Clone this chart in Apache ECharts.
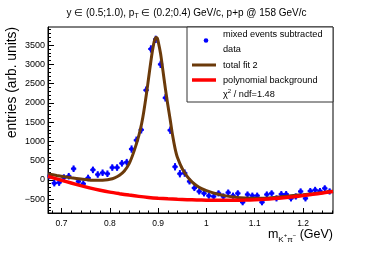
<!DOCTYPE html>
<html><head><meta charset="utf-8">
<script src="https://cdn.jsdelivr.net/npm/echarts@6/dist/echarts.min.js"></script>
<style>html,body{margin:0;padding:0;background:#fff}#c{width:374px;height:253px}</style>
</head><body><div id="c"></div>
<script>
// ---- data ----
const binCenters = [0.675,0.685,0.695,0.705,0.715,0.725,0.735,0.745,0.755,0.765,
  0.775,0.785,0.795,0.805,0.815,0.825,0.835,0.845,0.855,0.865,
  0.875,0.885,0.895,0.905,0.915,0.925,0.935,0.945,0.955,0.965,
  0.975,0.985,0.995,1.005,1.015,1.025,1.035,1.045,1.055,1.065,
  1.075,1.085,1.095,1.105,1.115,1.125,1.135,1.145,1.155,1.165,
  1.175,1.185,1.195,1.205,1.215,1.225,1.235,1.245,1.255];
const counts = [100,-85,-70,60,95,290,-40,-100,50,260,
  140,185,160,320,320,430,460,800,1030,1300,
  2330,3400,3650,3000,2130,1290,340,160,175,-40,
  -210,-300,-350,-410,-430,-350,-430,-330,-410,-350,
  -580,-380,-410,-410,-580,-380,-350,-480,-370,-370,
  -480,-430,-300,-480,-290,-260,-290,-220,-300];
const errors = [85,85,85,85,85,85,85,85,85,85,
  85,85,85,85,85,85,85,95,95,95,
  95,95,95,95,95,95,95,95,95,80,
  80,80,80,80,80,80,80,80,80,80,
  80,80,80,80,80,80,80,80,80,80,
  80,80,80,80,80,80,80,80,80];
const fitX = [0.672,0.69,0.70,0.72,0.74,0.76,0.78,0.79,0.80,0.81,0.82,0.83,0.84,0.85,0.86,0.866,0.87,0.876,0.88,0.885,0.89,0.895,0.898,0.90,0.905,0.91,0.915,0.92,0.925,0.93,0.935,0.94,0.95,0.96,0.97,0.98,0.99,1.00,1.02,1.04,1.06,1.08,1.10,1.12,1.14,1.16,1.18,1.20,1.22,1.24,1.262];
const fitY = [155,115,95,55,20,-8,-12,-5,15,55,120,230,420,740,1150,1470,1750,2250,2620,3080,3480,3700,3680,3600,3280,2830,2370,1950,1560,1150,820,580,290,90,-50,-150,-225,-280,-360,-415,-452,-472,-480,-475,-458,-432,-405,-385,-360,-332,-298];
const bgX = [0.672,0.70,0.72,0.74,0.76,0.78,0.80,0.82,0.84,0.86,0.88,0.90,0.92,0.94,0.96,0.98,1.00,1.02,1.04,1.06,1.08,1.10,1.12,1.14,1.16,1.18,1.20,1.22,1.24,1.262];
const bgY = [90,-10,-80,-150,-215,-270,-318,-358,-395,-428,-455,-476,-492,-505,-515,-522,-527,-530,-531,-529,-524,-515,-502,-485,-463,-437,-407,-375,-340,-300];
const xMajorTicks = [0.7,0.8,0.9,1.0,1.1,1.2];
const xTickLabels = ['0.7','0.8','0.9','1','1.1','1.2'];
const xMinorTicks = [0.68,0.72,0.74,0.76,0.78,0.82,0.84,0.86,0.88,0.92,0.94,0.96,0.98,1.02,1.04,1.06,1.08,1.12,1.14,1.16,1.18,1.22,1.24,1.26];
const yMajorTicks = [-500,0,500,1000,1500,2000,2500,3000,3500];
const yTickLabels = ['\u2212500','0','500','1000','1500','2000','2500','3000','3500'];
const yMinorTicks = [];
for (let v = -800; v <= 3900; v += 100) yMinorTicks.push(v);

const FONT = 'Liberation Sans, Arial, Helvetica, sans-serif';
const X_MIN = 0.672, X_MAX = 1.262, Y_MIN = -860, Y_MAX = 3970;

const chart = echarts.init(document.getElementById('c'), null, {renderer:'canvas'});
function axisBase(extra){
  return Object.assign({type:'value', splitLine:{show:false}}, extra);
}
const option = {
  animation:false,
  backgroundColor:'#fff',
  grid:{left:48, top:27, width:285, height:186, show:true, borderColor:'#000', borderWidth:1, backgroundColor:'transparent'},
  xAxis:[
    axisBase({min:X_MIN, max:X_MAX, position:'bottom',
      axisLine:{show:true, onZero:false, lineStyle:{color:'#000', width:1}},
      axisTick:{show:true, inside:true, length:5, customValues:xMajorTicks, lineStyle:{color:'#000', width:1}},
      axisLabel:{show:true, customValues:xMajorTicks, margin:6, fontSize:8.5, color:'#000', fontFamily:FONT,
        formatter:function(v){ const i = xMajorTicks.findIndex(t=>Math.abs(t-v)<1e-6); return i>=0? xTickLabels[i] : ''; }}
    }),
    axisBase({min:X_MIN, max:X_MAX, position:'bottom',
      axisLine:{show:false, onZero:false},
      axisTick:{show:true, inside:true, length:2.5, customValues:xMinorTicks, lineStyle:{color:'#000', width:1}},
      axisLabel:{show:false}
    })
  ],
  yAxis:[
    axisBase({min:Y_MIN, max:Y_MAX, position:'left',
      axisLine:{show:true, onZero:false, lineStyle:{color:'#000', width:1}},
      axisTick:{show:true, inside:true, length:6, customValues:yMajorTicks, lineStyle:{color:'#000', width:1}},
      axisLabel:{show:true, customValues:yMajorTicks, margin:3, fontSize:9, color:'#000', fontFamily:FONT,
        formatter:function(v){ const i = yMajorTicks.findIndex(t=>Math.abs(t-v)<1e-6); return i>=0? yTickLabels[i] : ''; }}
    }),
    axisBase({min:Y_MIN, max:Y_MAX, position:'left',
      axisLine:{show:false, onZero:false},
      axisTick:{show:true, inside:true, length:3, customValues:yMinorTicks, lineStyle:{color:'#000', width:1}},
      axisLabel:{show:false}
    })
  ],
  series:[
    {
      type:'custom', xAxisIndex:0, yAxisIndex:0, z:2, clip:true,
      data: binCenters.map((x,i)=>[x, counts[i], errors[i]]),
      renderItem:function(params, api){
        const x = api.value(0), y = api.value(1), e = api.value(2);
        const l = api.coord([x-0.0055, y]), r = api.coord([x+0.0055, y]);
        const t = api.coord([x, y+e]), b = api.coord([x, y-e]);
        const st = {stroke:'#0000ff', lineWidth:2};
        return {type:'group', children:[
          {type:'line', shape:{x1:l[0], y1:l[1], x2:r[0], y2:r[1]}, style:st},
          {type:'line', shape:{x1:t[0], y1:t[1], x2:b[0], y2:b[1]}, style:st}
        ]};
      }
    },
    {
      type:'scatter', xAxisIndex:0, yAxisIndex:0, z:3, symbol:'circle', symbolSize:4.5,
      itemStyle:{color:'#0000ff'},
      data: binCenters.map((x,i)=>[x, counts[i]])
    },
    {
      type:'line', xAxisIndex:0, yAxisIndex:0, z:4, smooth:0.3, showSymbol:false,
      lineStyle:{color:'#6b3a0a', width:3},
      data: fitX.map((x,i)=>[x, fitY[i]])
    },
    {
      type:'line', xAxisIndex:0, yAxisIndex:0, z:5, smooth:0.3, showSymbol:false,
      lineStyle:{color:'#ff0000', width:3.5},
      data: bgX.map((x,i)=>[x, bgY[i]])
    }
  ],
  graphic:[
    {type:'text', x:186.5, y:13, style:{
      text:'{a|y \u2208 (0.5;1.0), p}{s|T}{a| \u2208 (0.2;0.4) GeV/c, p+p @ 158 GeV/c}',
      align:'center', verticalAlign:'middle', fill:'#000',
      rich:{a:{fontSize:10, fontFamily:FONT, lineHeight:14, fill:'#000'}, s:{fontSize:7, fontFamily:FONT, lineHeight:14, verticalAlign:'bottom', fill:'#000'}}
    }},
    {type:'text', x:12.5, y:82.5, rotation:Math.PI/2, style:{
      text:'entries (arb. units)', align:'center', verticalAlign:'middle', fill:'#000', fontSize:13.8, fontFamily:FONT
    }},
    {type:'text', x:333, y:235, style:{
      text:'{m|m}{s|K}{p|+}{s|\u03c0}{p|\u2212}{g| (GeV)}', align:'right', verticalAlign:'middle', fill:'#000',
      rich:{
        m:{fontSize:12.5, fontFamily:FONT, lineHeight:18, fill:'#000'},
        s:{fontSize:8, fontFamily:FONT, lineHeight:18, verticalAlign:'bottom', fill:'#000'},
        p:{fontSize:6, fontFamily:FONT, lineHeight:18, verticalAlign:'middle', fill:'#000'},
        g:{fontSize:12.5, fontFamily:FONT, lineHeight:18, fill:'#000'}
      }
    }},
    {type:'rect', shape:{x:187, y:27, width:146, height:75}, style:{fill:'#fff', stroke:'#333', lineWidth:1}, z:100},
    {type:'circle', shape:{cx:206, cy:40.5, r:2.3}, style:{fill:'#0000ff'}, z:101},
    {type:'text', x:223, y:34.3, style:{text:'mixed events subtracted', verticalAlign:'middle', fill:'#000', fontSize:9.2, fontFamily:FONT}, z:101},
    {type:'text', x:223, y:49.3, style:{text:'data', verticalAlign:'middle', fill:'#000', fontSize:9.2, fontFamily:FONT}, z:101},
    {type:'line', shape:{x1:192, y1:65, x2:216, y2:65}, style:{stroke:'#6b3a0a', lineWidth:3}, z:101},
    {type:'text', x:223, y:65, style:{text:'total fit 2', verticalAlign:'middle', fill:'#000', fontSize:9.2, fontFamily:FONT}, z:101},
    {type:'line', shape:{x1:192, y1:80, x2:216, y2:80}, style:{stroke:'#ff0000', lineWidth:3.5}, z:101},
    {type:'text', x:223, y:80, style:{text:'polynomial background', verticalAlign:'middle', fill:'#000', fontSize:9.2, fontFamily:FONT}, z:101},
    {type:'text', x:223, y:94.3, style:{text:'{a|\u03c7}{b|2}{a| / ndf=1.48}', verticalAlign:'middle', fill:'#000',
      rich:{a:{fontSize:9.2, fontFamily:FONT, lineHeight:12, fill:'#000'}, b:{fontSize:6, fontFamily:FONT, lineHeight:12, verticalAlign:'top', fill:'#000'}}}, z:101}
  ]
};
chart.setOption(option);
</script>
</body></html>
